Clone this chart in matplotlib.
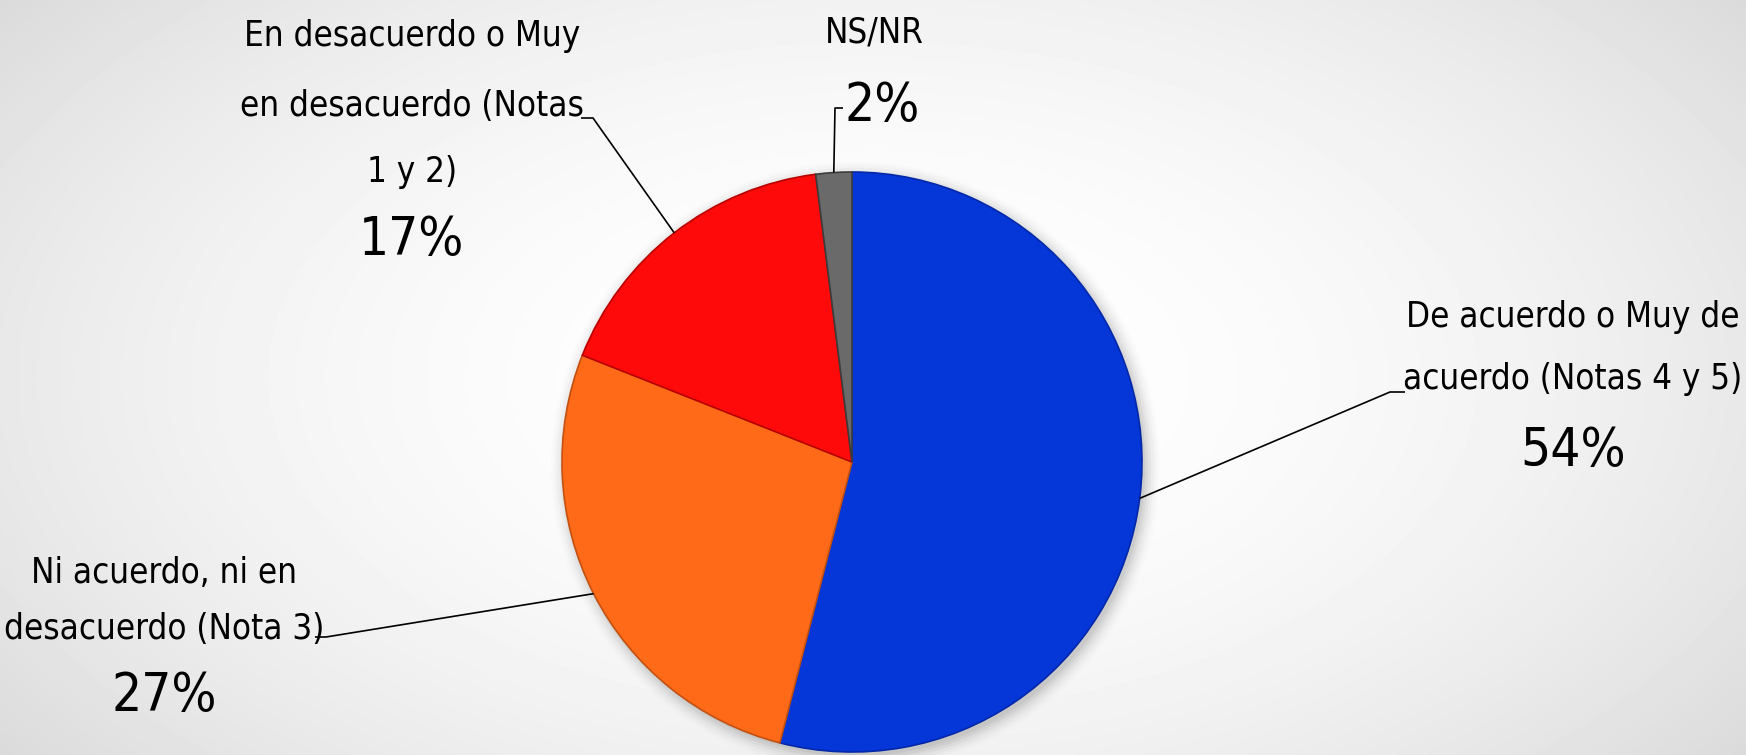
import numpy as np
import matplotlib.pyplot as plt

# Survey answers, clockwise from the top
labels = ['De acuerdo o Muy de\nacuerdo (Notas 4 y 5)',
          'Ni acuerdo, ni en\ndesacuerdo (Nota 3)',
          'En desacuerdo o Muy\nen desacuerdo (Notas\n1 y 2)',
          'NS/NR']
values = [54, 27, 17, 2]
colors = ['#0436D8', '#FF6A18', '#FF0A0A', '#6A6A6A']
edges = ['#0328A8', '#C4500F', '#B80000', '#3C3C3C']

FONT = dict(family='DejaVu Sans', stretch='condensed', color='black')

W, H = 1746, 755
CX, CY, R = 852, 462, 290  # pie centre / radius in pixels


def px(x, y):
    # pixel position (from top-left) -> data coords with the pie at the origin
    return (x - CX) / R, (CY - y) / R


fig = plt.figure(figsize=(W / 100, H / 100), dpi=100)
ax = fig.add_axes([0, 0, 1, 1])
x0, y1 = px(0, 0)
x1, y0 = px(W, H)

# soft radial background
gx, gy = np.meshgrid(np.linspace(-1, 1, 400), np.linspace(-1, 1, 200))
dist = np.sqrt((gx * 0.9) ** 2 + (gy * 0.7) ** 2)
shade = 1 - 0.11 * np.clip(dist, 0, 1.3) ** 2
ax.imshow(shade, cmap='gray', vmin=0, vmax=1, extent=[x0, x1, y0, y1],
          aspect='auto', zorder=0, interpolation='bicubic')

# faint shadow under the pie
for k, a in enumerate(np.linspace(0.05, 0.01, 6)):
    ax.add_patch(plt.Circle((0.012, -0.015), 1.0 + 0.01 * k, color='black',
                            alpha=a, zorder=1, lw=0))

wedges, _ = ax.pie(values, colors=colors, startangle=90, counterclock=False,
                   radius=1, center=(0, 0), frame=True,
                   wedgeprops=dict(linewidth=1.2))
for w, ec in zip(wedges, edges):
    w.set_edgecolor(ec)
    w.set_zorder(2)
ax.set_xlim(x0, x1)
ax.set_ylim(y0, y1)
ax.set_aspect('auto')
ax.axis('off')

# label blocks: line positions in px, elbow and tick end of the leader
layout = [
    dict(lines=[(1573, 317), (1573, 379)], pct=(1573, 451),
         elbow=(1390, 392), tick=(1405, 392)),
    dict(lines=[(164, 573), (164, 629)], pct=(164, 696),
         elbow=(326, 637), tick=(315, 637)),
    dict(lines=[(412, 36), (412, 106), (412, 172)], pct=(412, 240),
         elbow=(593, 118), tick=(581, 118)),
    dict(lines=[(874, 33)], pct=(882, 106),
         elbow=(835, 108), tick=(843, 108)),
]

for w, lab, val, lay in zip(wedges, labels, values, layout):
    for line, (lx, ly) in zip(lab.split('\n'), lay['lines']):
        ax.text(*px(lx, ly), line, ha='center', va='center', fontsize=25,
                zorder=5, **FONT)
    ax.text(*px(*lay['pct']), f'{val}%', ha='center', va='center',
            fontsize=38, zorder=5, **FONT)

    # leader line from the middle of the slice's rim
    mid = np.deg2rad((w.theta1 + w.theta2) / 2)
    sx, sy = np.cos(mid), np.sin(mid)
    ex, ey = px(*lay['elbow'])
    tx, ty = px(*lay['tick'])
    ax.plot([sx, ex, tx], [sy, ey, ty], color='black', lw=1.2, zorder=4,
            solid_capstyle='butt')

fig.savefig('out.png', dpi=100)
